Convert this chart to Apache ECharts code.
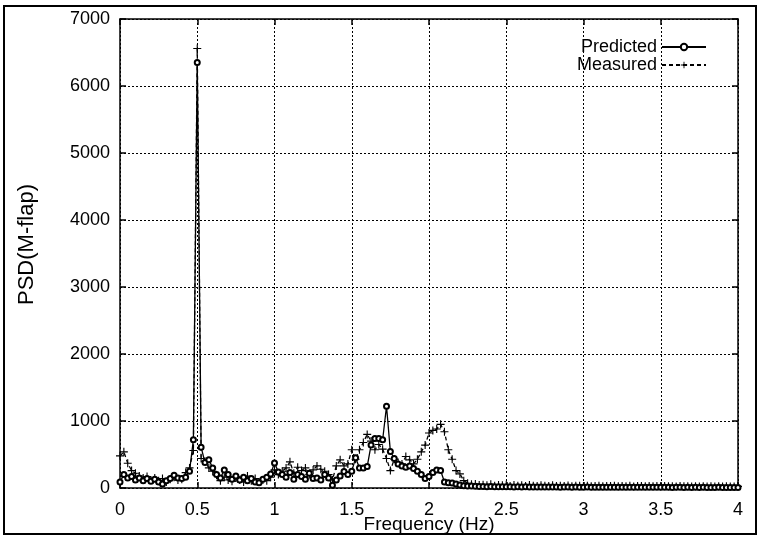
<!DOCTYPE html>
<html>
<head>
<meta charset="utf-8">
<script src="https://cdn.jsdelivr.net/npm/echarts@6/dist/echarts.min.js"></script>
<style>
  html, body { margin: 0; padding: 0; background: #fff; }
  #chart { width: 760px; height: 537px; }
</style>
</head>
<body>
<div id="chart"></div>
<script>
// Frequency grid: 0 to 4 Hz in 0.025 Hz steps (161 bins)
const freqStep = 0.025;

// Predicted PSD per bin
const predicted = [
  90, 200, 150, 170, 120, 150, 110, 140, 100, 130,
  90, 60, 110, 140, 190, 150, 140, 160, 250, 720,
  6350, 610, 380, 420, 300, 200, 150, 270, 200, 130,
  180, 120, 160, 110, 140, 90, 80, 130, 160, 210,
  375, 240, 200, 160, 230, 130, 200, 170, 130, 220,
  140, 150, 120, 200, 150, 40, 120, 180, 245, 200,
  250, 450, 300, 300, 320, 640, 740, 740, 720, 1220,
  545, 440, 360, 330, 310, 330, 290, 250, 200, 140,
  170, 230, 270, 260, 90, 80, 75, 60, 45, 35,
  30, 28, 25, 22, 24, 20, 22, 18, 20, 19,
  17, 18, 16, 18, 15, 17, 16, 15, 16, 14,
  15, 16, 14, 15, 13, 14, 15, 13, 14, 12,
  13, 14, 12, 13, 12, 13, 11, 12, 13, 11,
  12, 11, 12, 10, 11, 12, 10, 11, 10, 11,
  10, 11, 10, 9, 10, 11, 9, 10, 9, 10,
  9, 10, 9, 8, 9, 10, 8, 9, 8, 9,
  8
];

// Measured PSD per bin
const measured = [
  480, 540, 370, 260, 220, 180, 150, 170, 120, 150,
  110, 140, 90, 130, 160, 120, 130, 230, 300, 560,
  6560, 440, 400, 300, 250, 190, 110, 160, 120, 100,
  150, 120, 90, 180, 110, 140, 90, 120, 110, 160,
  270, 200, 250, 300, 390, 220, 310, 260, 300, 200,
  270, 330, 280, 250, 200, 120, 330, 420, 330, 360,
  570, 430, 570, 680, 800, 700, 570, 650, 580, 440,
  260, 430, 380, 360, 470, 420, 360, 430, 540, 640,
  820, 860, 880, 950, 840, 570, 430, 260, 210, 110,
  70, 55, 60, 45, 50, 40, 55, 35, 45, 40,
  50, 30, 45, 35, 40, 30, 45, 35, 30, 40,
  35, 30, 40, 28, 35, 30, 38, 25, 32, 35,
  28, 33, 25, 30, 35, 25, 30, 28, 32, 25,
  30, 27, 32, 24, 30, 28, 25, 30, 26, 28,
  24, 30, 25, 27, 23, 28, 25, 26, 24, 27,
  23, 26, 24, 25, 22, 26, 23, 25, 22, 24,
  25
];

const xTicks = [0, 0.5, 1, 1.5, 2, 2.5, 3, 3.5, 4];
const yTicks = [0, 1000, 2000, 3000, 4000, 5000, 6000, 7000];

const toPairs = arr => arr.map((v, i) => [+(i * freqStep).toFixed(3), v]);

// Small "+" cross drawn as a filled outline
const plusPath = 'path://M4.3,0H5.7V4.3H10V5.7H5.7V10H4.3V5.7H0V4.3H4.3Z';

const font = 'Liberation Sans, Arial, sans-serif';
const chart = echarts.init(document.getElementById('chart'), null, { renderer: 'canvas' });

const baseX = {
  type: 'value', min: 0, max: 4, interval: 0.5,
  axisLine: { show: true, onZero: false, lineStyle: { color: '#000', width: 1.5 } },
  axisTick: { show: true, inside: true, length: 6, lineStyle: { color: '#000', width: 1.5 } },
  splitLine: { show: false }
};
const baseY = {
  type: 'value', min: 0, max: 7000, interval: 1000,
  axisLine: { show: true, onZero: false, lineStyle: { color: '#000', width: 1.5 } },
  axisTick: { show: true, inside: true, length: 6, lineStyle: { color: '#000', width: 1.5 } },
  splitLine: { show: false }
};

chart.setOption({
  animation: false,
  backgroundColor: '#fff',
  grid: { left: 120, right: 22, top: 19, bottom: 49, containLabel: false, outerBoundsMode: 'none' },
  graphic: [{
    type: 'rect', silent: true, z: -1,
    shape: { x: 4, y: 6, width: 752, height: 528 },
    style: { fill: 'none', stroke: '#000', lineWidth: 2 }
  }],
  legend: {
    right: 48, top: 33, orient: 'vertical', align: 'right',
    itemWidth: 44, itemHeight: 8, itemGap: 0,
    textStyle: { fontFamily: font, fontSize: 18, lineHeight: 18, color: '#000' },
    data: ['Predicted', 'Measured']
  },
  xAxis: [
    Object.assign({}, baseX, {
      position: 'bottom',
      name: 'Frequency (Hz)', nameLocation: 'middle', nameGap: 27, nameMoveOverlap: false,
      nameTextStyle: { fontFamily: font, fontSize: 19, lineHeight: 19, color: '#000' },
      axisLabel: {
        fontFamily: font, fontSize: 18, color: '#000', margin: 13,
        formatter: v => xTicks.includes(v) ? String(v) : ''
      },
      splitLine: { show: true, lineStyle: { color: '#000', type: [2, 2], width: 1 } }
    }),
    Object.assign({}, baseX, { position: 'top', axisLabel: { show: false } })
  ],
  yAxis: [
    Object.assign({}, baseY, {
      position: 'left',
      name: 'PSD(M-flap)', nameLocation: 'middle', nameGap: 82, nameRotate: 90,
      nameTextStyle: { fontFamily: font, fontSize: 22, color: '#000', padding: [0, 0, 0, 18] },
      axisLabel: {
        fontFamily: font, fontSize: 18, color: '#000', margin: 10,
        formatter: v => yTicks.includes(v) ? String(v) : ''
      },
      splitLine: { show: true, lineStyle: { color: '#000', type: [2, 2], width: 1 } }
    }),
    Object.assign({}, baseY, { position: 'right', axisLabel: { show: false } })
  ],
  series: [
    {
      name: 'Predicted', type: 'line', xAxisIndex: 0, yAxisIndex: 0,
      data: toPairs(predicted),
      symbol: 'emptyCircle', symbolSize: 5, showAllSymbol: true,
      lineStyle: { color: '#000', width: 1.3 },
      itemStyle: { color: '#000', borderColor: '#000', borderWidth: 1.2 },
      z: 3
    },
    {
      name: 'Measured', type: 'line', xAxisIndex: 0, yAxisIndex: 0,
      data: toPairs(measured),
      symbol: plusPath, symbolSize: 8, showAllSymbol: true,
      lineStyle: { color: '#000', width: 1.3, type: [4, 3] },
      itemStyle: { color: '#000', borderWidth: 0 },
      z: 2
    }
  ]
});
</script>
</body>
</html>
